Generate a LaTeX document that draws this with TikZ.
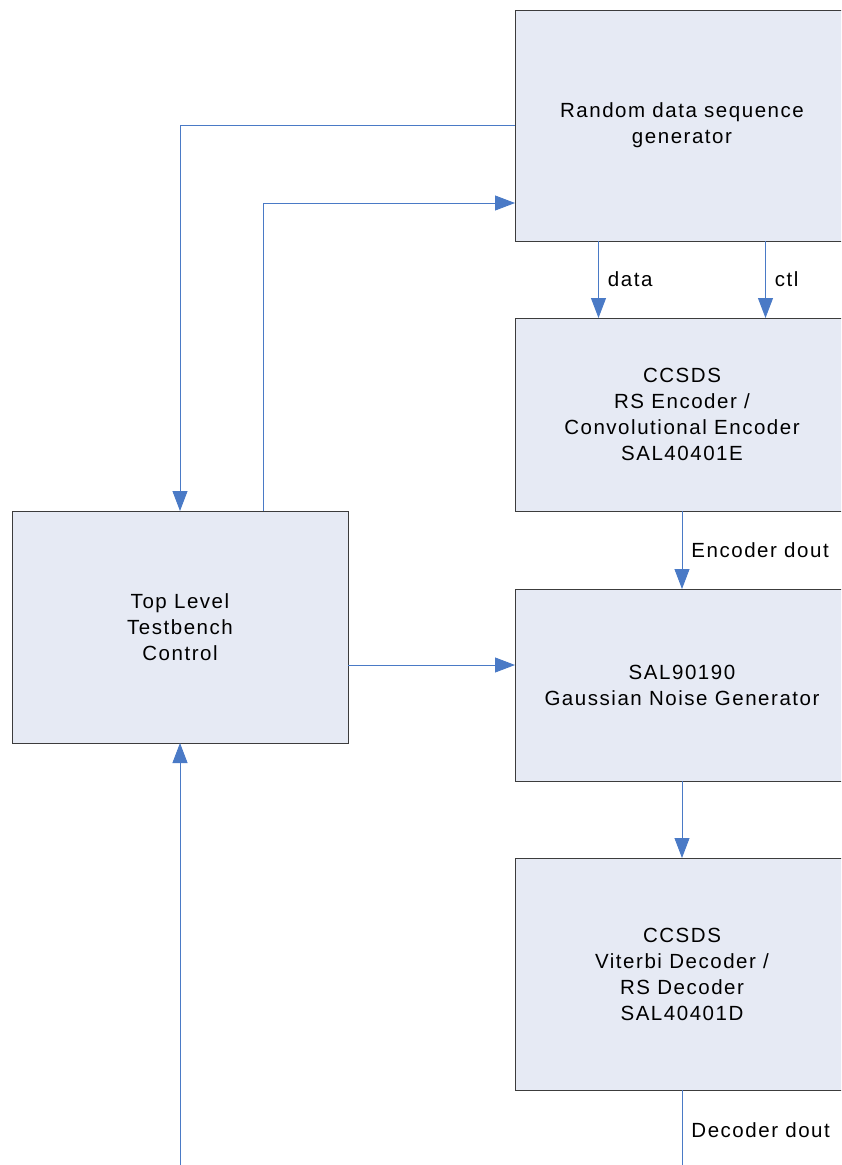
\documentclass[tikz,border=0pt]{standalone}
\usepackage{fontspec}
\setmainfont{Liberation Sans}[LetterSpace=7.5]
\usepackage{tikz}
\usetikzlibrary{positioning,calc,arrows.meta}
\definecolor{boxfill}{HTML}{E6EAF4}
\definecolor{boxline}{HTML}{3C3C3C}
\definecolor{wire}{HTML}{4A7AC6}

\begin{document}
\begin{tikzpicture}[%
    x=1pt, y=-1pt,
    ->,
    >={Triangle[length=20pt,width=15pt]},
    align=center,
    font=\fontsize{20.5}{26}\selectfont,
    block/.style={draw=boxline, fill=boxfill, line width=1pt,
        minimum width=334pt, inner sep=0pt, outer sep=0pt},
    wires/.style={color=wire, line width=0.9pt},
    lbl/.style={right, text=black, inner xsep=9pt, inner ysep=0pt}
  ]
    \useasboundingbox (0,0) rectangle (841,1165);
    \clip (0,0) rectangle (841,1165);

    \node[block, minimum height=231pt] (1) at (682,125.5) {Random data sequence\\generator};

    \node[block, minimum height=193pt] (2) [below=77pt of 1] {CCSDS\\RS Encoder /\\Convolutional Encoder\\SAL40401E};

    \node[block, minimum height=192pt] (3) [below=78pt of 2] {SAL90190\\Gaussian Noise Generator};

    \node[block, minimum height=232pt] (4) [below=77pt of 3] {CCSDS\\Viterbi Decoder /\\RS Decoder\\SAL40401D};

    \node[block, minimum width=336pt, minimum height=232pt] (5) at (180,627) {Top Level\\Testbench\\Control};

    \coordinate (d) at ($(1.south west)!0.25!(1.south east)$);
    \coordinate (c) at ($(1.south west)!0.75!(1.south east)$);
    \coordinate (out) at (4.south |- 0,1170);
    \coordinate (in) at (5.south |- 0,1170);

    \path[wires] (d) edge node[lbl] {data} (d |- 2.north)
          (c) edge node[lbl] {ctl} (c |- 2.north)
          (2) edge node[lbl] {Encoder dout} (3)
          (3) edge (4)
          (4.south) edge[-] node[lbl] {Decoder dout} (out)
          (in) edge (5.south)
          ;

    \draw[wires] (1.west) -| (5.north);
    \draw[wires] ([xshift=83pt]5.north) |- ([yshift=38pt]1.south west);
    \draw[wires] ([yshift=-38pt]5.east) -- ([yshift=-38pt]5.east -| 3.west);
  \end{tikzpicture}
\end{document}
